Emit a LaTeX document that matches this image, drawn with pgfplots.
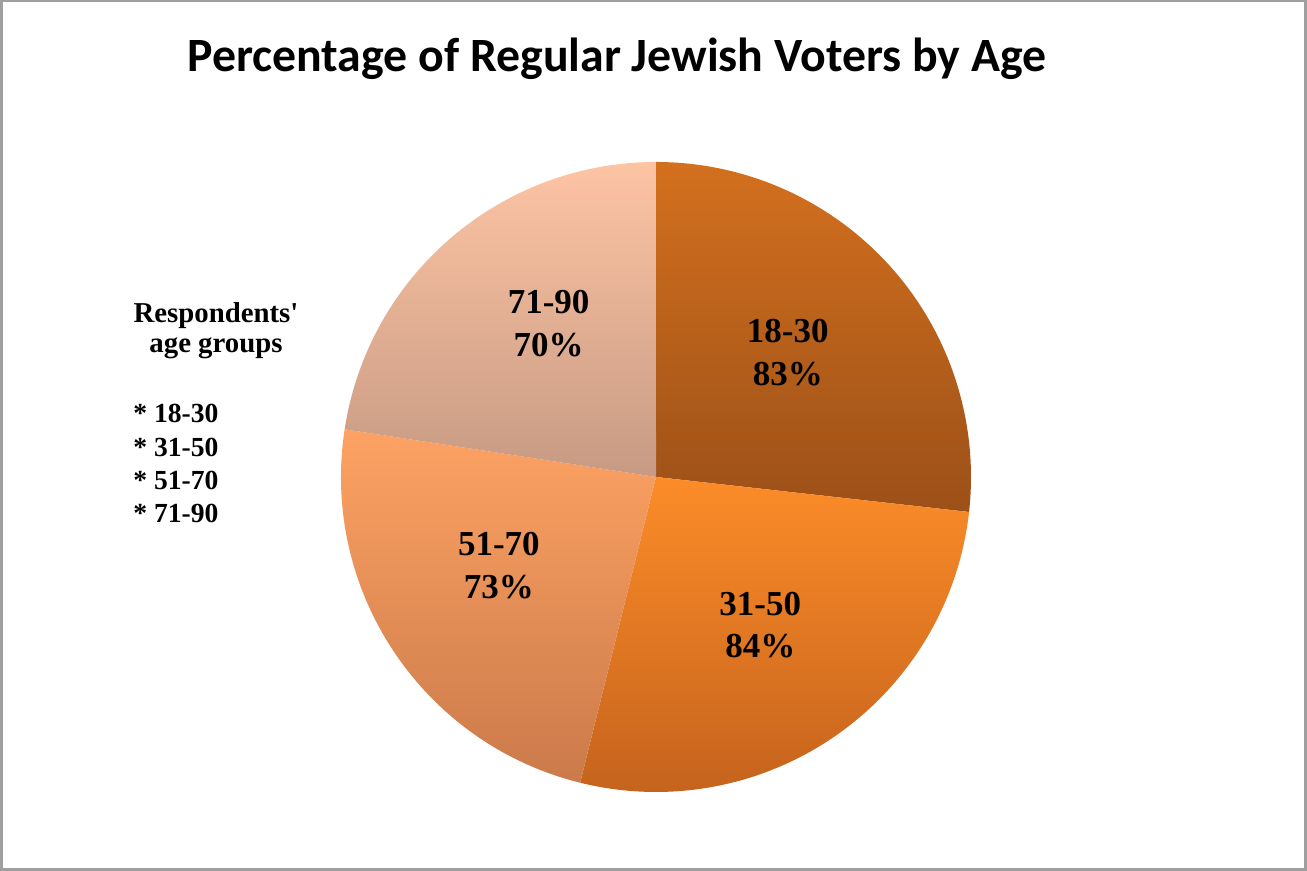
\documentclass[border=0pt]{standalone}
\usepackage{pgfplots}
\pgfplotsset{compat=1.18}
\usepackage{pgfplotstable}
\usepackage{fontspec}
\setmainfont{Liberation Serif}
\newfontfamily\titlefont{Carlito}

\definecolor{top0}{HTML}{D3701E}\definecolor{bot0}{HTML}{9C5018}
\definecolor{top1}{HTML}{FC8C28}\definecolor{bot1}{HTML}{C4621C}
\definecolor{top2}{HTML}{FDA263}\definecolor{bot2}{HTML}{CB7A4A}
\definecolor{top3}{HTML}{FDC4A4}\definecolor{bot3}{HTML}{C79A83}

% value: percentage; lr: label radius (fraction of pie radius); da: label angle shift
\pgfplotstableread{
age value lr da
18-30 83 0.575 1.5
31-50 84 0.575 0.3
51-70 73 0.572 -4.4
71-90 70 0.595 -5.7
}\piedata

\begin{document}
\begin{tikzpicture}
\path (0,0) rectangle (653.5pt,435.5pt);
\draw[gray!75, line width=1.2pt] (0.8pt,0.8pt) rectangle (652.7pt,434.9pt);
% totals and angles from the data
\pgfmathsetmacro\tot{0}
\pgfplotsforeachungrouped \i in {0,...,3}{%
  \pgfplotstablegetelem{\i}{value}\of\piedata
  \pgfmathsetmacro\tot{\tot+\pgfplotsretval}%
}
\pgfmathsetmacro\cum{90}
\pgfplotsforeachungrouped \i in {0,...,3}{%
  \pgfplotstablegetelem{\i}{value}\of\piedata
  \edef\v{\pgfplotsretval}%
  \expandafter\xdef\csname val\i\endcsname{\v}%
  \pgfplotstablegetelem{\i}{age}\of\piedata
  \expandafter\xdef\csname lab\i\endcsname{\pgfplotsretval}%
  \pgfplotstablegetelem{\i}{lr}\of\piedata
  \expandafter\xdef\csname lr\i\endcsname{\pgfplotsretval}%
  \pgfplotstablegetelem{\i}{da}\of\piedata
  \edef\da{\pgfplotsretval}%
  \expandafter\xdef\csname start\i\endcsname{\cum}%
  \pgfmathsetmacro\cum{\cum-360*(\v/\tot)}%
  \expandafter\xdef\csname end\i\endcsname{\cum}%
  \pgfmathsetmacro\m{(\csname start\i\endcsname+\cum)/2+\da}%
  \expandafter\xdef\csname mid\i\endcsname{\m}%
}
\begin{axis}[hide axis, x=157.5pt, y=157.5pt, xmin=-1, xmax=1, ymin=-1, ymax=1,
  anchor=center, at={(328pt,197pt)}, clip=false]
\pgfplotsinvokeforeach{0,...,3}{
  \shade[top color=top#1, bottom color=bot#1] (axis cs:0,0)
    -- ++(\csname start#1\endcsname:157.5pt)
    arc[start angle=\csname start#1\endcsname, end angle=\csname end#1\endcsname, radius=157.5pt]
    -- cycle;
}
\pgfplotsinvokeforeach{0,...,3}{
  \path (axis cs:0,0) ++(\csname mid#1\endcsname:{\csname lr#1\endcsname*157.5pt})
    node[align=center, font=\bfseries\fontsize{17.5}{21.5}\selectfont, inner sep=0pt]
    {\csname lab#1\endcsname\\\csname val#1\endcsname\%};
}
\end{axis}
\node[anchor=base, font=\titlefont\bfseries\fontsize{23.9}{28}\selectfont] at (308.5pt,399.5pt)
  {Percentage of Regular Jewish Voters by Age};
\begin{scope}[font=\bfseries\fontsize{14.4}{16}\selectfont]
\node[anchor=base] at (108pt,274pt) {Respondents\textquotesingle};
\node[anchor=base] at (108pt,259pt) {age groups};
\end{scope}
\begin{scope}[font=\bfseries\fontsize{13.8}{16}\selectfont]
\node[anchor=base west, inner sep=0pt] at (66.5pt,224pt) {* 18-30};
\node[anchor=base west, inner sep=0pt] at (66.5pt,207pt) {* 31-50};
\node[anchor=base west, inner sep=0pt] at (66.5pt,190.5pt) {* 51-70};
\node[anchor=base west, inner sep=0pt] at (66.5pt,174pt) {* 71-90};
\end{scope}
\end{tikzpicture}
\end{document}
